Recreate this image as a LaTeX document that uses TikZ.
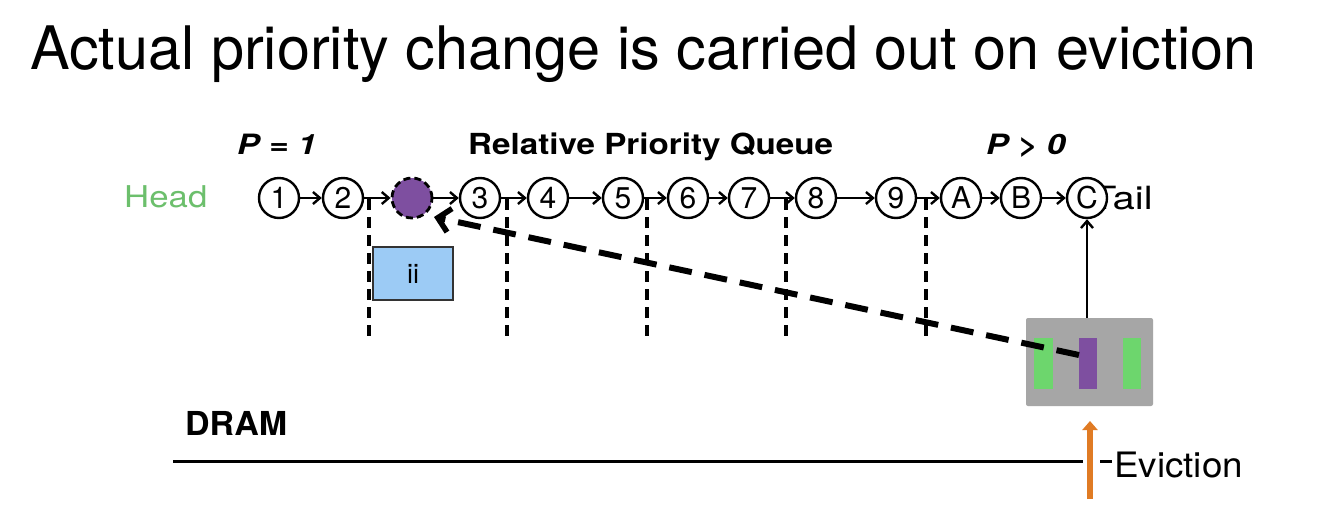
\documentclass[tikz,border=0pt]{standalone}
\usepackage{fontspec}
\setmainfont{TeX Gyre Heros}
\usetikzlibrary{arrows.meta}
\definecolor{headgreen}{HTML}{6CBF6C}
\definecolor{barpurple}{HTML}{7E4FA0}
\definecolor{bargreen}{HTML}{6DD66D}
\definecolor{boxgray}{HTML}{A6A6A6}
\definecolor{iiblue}{HTML}{9CCBF5}
\definecolor{evorange}{HTML}{E07B24}
\tikzset{
  circ/.style={circle, draw=black, line width=2.4pt, fill=white, minimum size=40pt, inner sep=0pt, font=\fontsize{30}{30}\selectfont},
  arr/.style={line width=2.4pt, -{Straight Barb[length=7pt,width=12pt]}},
  vdash/.style={line width=3.4pt, dash pattern=on 11pt off 7pt},
  bigdash/.style={line width=6pt, dash pattern=on 23pt off 13pt, -{Straight Barb[length=12pt,width=24pt,line width=5.5pt]}},
  lbl/.style={inner sep=0pt, anchor=base west},
}
\begin{document}
\begin{tikzpicture}[x=1pt,y=-1pt]
\useasboundingbox[fill=white] (0,0) rectangle (1334,528);
% title
\node[lbl] (title) at (30,69) {\scalebox{0.99}[1]{\fontsize{60}{60}\selectfont Actual priority change is carried out on eviction}};
% labels
\node[lbl, text=headgreen] (head) at (124,207) {\scalebox{1.16}[1]{\fontsize{30}{30}\selectfont Head}};
\node[lbl] (p1) at (237,154) {\scalebox{1.2}[1]{\fontsize{28}{28}\selectfont\bfseries\itshape P = 1}};
\node[lbl] (rpq) at (468,154) {\scalebox{1.145}[1]{\fontsize{29}{29}\selectfont\bfseries Relative Priority Queue}};
\node[lbl] (p0) at (986,154) {\scalebox{1.2}[1]{\fontsize{28}{28}\selectfont\bfseries\itshape P > 0}};
\node[lbl] (tail) at (1092,209) {\scalebox{1.25}[1]{\fontsize{32}{32}\selectfont Tail}};
% dashed vertical lines
\foreach \x in {369,507,647,786,926}{
  \draw[vdash] (\x,199) -- (\x,336);
}
% ii box
\node[draw=black!80, line width=1.8pt, fill=iiblue, minimum width=80pt, minimum height=53pt, inner sep=0pt, font=\fontsize{27}{27}\selectfont] (ii) at (413,273.5) {ii};
% queue circles
\node[circ] (n1) at (279,198) {1};
\node[circ] (n2) at (343,198) {2};
\node[circ, fill=barpurple, dash pattern=on 7pt off 4pt, line width=2.8pt] (np) at (412,198) {};
\node[circ] (n3) at (480,198) {3};
\node[circ] (n4) at (548,198) {4};
\node[circ] (n5) at (623,198) {5};
\node[circ] (n6) at (688,198) {6};
\node[circ] (n7) at (749,198) {7};
\node[circ] (n8) at (816,198) {8};
\node[circ] (n9) at (896,198) {9};
\node[circ] (nA) at (961,198) {A};
\node[circ] (nB) at (1021,198) {B};
\node[circ] (nC) at (1087,198) {C};
\draw[arr] (n1) -- (n2);
\draw[arr] (n2) -- (np);
\draw[arr] (np) -- (n3);
\draw[arr] (n3) -- (n4);
\draw[arr] (n4) -- (n5);
\draw[arr] (n5) -- (n6);
\draw[arr] (n6) -- (n7);
\draw[arr] (n7) -- (n8);
\draw[arr] (n8) -- (n9);
\draw[arr] (n9) -- (nA);
\draw[arr] (nA) -- (nB);
\draw[arr] (nB) -- (nC);
% cache box
\node[fill=boxgray, rounded corners=2pt, minimum width=127pt, minimum height=88pt, inner sep=0pt] (box) at (1089.5,362) {};
\node[fill=bargreen, minimum width=19pt, minimum height=51pt, inner sep=0pt] (g1) at (1043.5,363.5) {};
\node[fill=barpurple, minimum width=18pt, minimum height=51pt, inner sep=0pt] (pbar) at (1088,363.5) {};
\node[fill=bargreen, minimum width=18pt, minimum height=51pt, inner sep=0pt] (g2) at (1132,363.5) {};
\draw[arr] (nC |- box.north) -- (nC.south);
% dashed move arrow
\coordinate (ds) at (1079,355);
\coordinate (tip) at (434,217);
\draw[bigdash] (ds) -- (tip);
% DRAM
\node[lbl] (dram) at (185,435) {\scalebox{1.03}[1]{\fontsize{33}{33}\selectfont\bfseries DRAM}};
\coordinate (l0) at (173,461);
\coordinate (l1) at (1083,461);
\coordinate (l2) at (1100,461);
\coordinate (l3) at (1112,461);
\draw[line width=3pt] (l0) -- (l1);
\draw[line width=3pt] (l2) -- (l3);
\node[lbl] (ev) at (1114,477) {\scalebox{1.05}[1]{\fontsize{35}{35}\selectfont Eviction}};
\coordinate (e0) at (1090,499);
\coordinate (e1) at (1090,421);
\draw[evorange, line width=6pt, -{Triangle[length=9pt,width=15pt]}] (e0) -- (e1);
\end{tikzpicture}
\end{document}
